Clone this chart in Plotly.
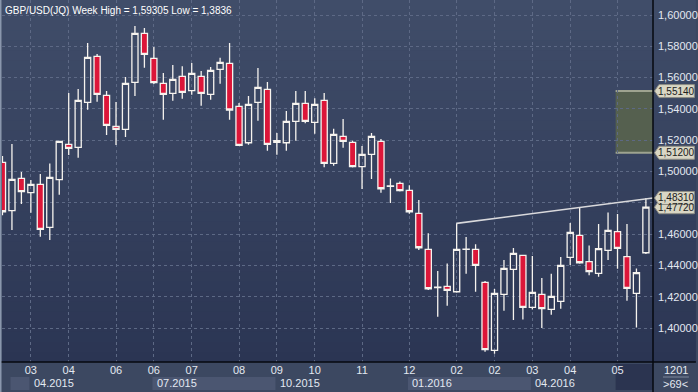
import plotly.graph_objects as go

# ---------------- data ----------------
bars = list(range(69))
opens = [1.5059, 1.4750, 1.4956, 1.4865, 1.4918, 1.4643, 1.4948, 1.5174, 1.5154, 1.5442,
         1.5736, 1.5487, 1.5289, 1.5269, 1.5570, 1.5883, 1.5723, 1.5563, 1.5499, 1.5608,
         1.5517, 1.5608, 1.5493, 1.5653, 1.5691, 1.5416, 1.5184, 1.5442, 1.5525, 1.5197,
         1.5184, 1.5321, 1.5436, 1.5314, 1.5455, 1.5052, 1.5225, 1.5186, 1.5031, 1.5110,
         1.5193, 1.4906, 1.4924, 1.4880, 1.4733, 1.4503, 1.4259, 1.4266, 1.4232, 1.4502,
         1.4503, 1.4292, 1.3857, 1.4215, 1.4375, 1.4464, 1.4132, 1.4215, 1.4119, 1.4170,
         1.4451, 1.4592, 1.4424, 1.4349, 1.4496, 1.4616, 1.4456, 1.4221, 1.4481]
highs = [1.5100, 1.5176, 1.4997, 1.4946, 1.4984, 1.5052, 1.5195, 1.5502, 1.5527, 1.5821,
         1.5751, 1.5514, 1.5444, 1.5604, 1.59305, 1.5917, 1.5795, 1.5629, 1.5681, 1.5672,
         1.5693, 1.5642, 1.5668, 1.5727, 1.5821, 1.5438, 1.5482, 1.5661, 1.5572, 1.5246,
         1.5387, 1.5514, 1.5514, 1.5468, 1.5502, 1.5274, 1.5335, 1.5197, 1.5163, 1.5246,
         1.5208, 1.4956, 1.4937, 1.4912, 1.4818, 1.4605, 1.4364, 1.4413, 1.4669, 1.4581,
         1.4535, 1.4300, 1.4249, 1.4434, 1.4511, 1.4466, 1.4460, 1.4319, 1.4347, 1.4454,
         1.4671, 1.4771, 1.4528, 1.4665, 1.4739, 1.4728, 1.4665, 1.4381, 1.4831]
lows = [1.4720, 1.4626, 1.4792, 1.4737, 1.4584, 1.4562, 1.4852, 1.5105, 1.5088, 1.5395,
        1.5446, 1.5233, 1.5169, 1.5220, 1.5482, 1.5663, 1.5559, 1.5331, 1.5453, 1.5465,
        1.5491, 1.5421, 1.5459, 1.5561, 1.5331, 1.5165, 1.5171, 1.5325, 1.5133, 1.5108,
        1.5133, 1.5197, 1.5308, 1.5242, 1.5027, 1.5037, 1.5152, 1.5025, 1.4888, 1.4952,
        1.4865, 1.4799, 1.4873, 1.4731, 1.4498, 1.4243, 1.4072, 1.4143, 1.4226, 1.4347,
        1.4232, 1.3849, 1.3836, 1.4111, 1.4051, 1.4055, 1.4119, 1.4000, 1.4085, 1.4124,
        1.4403, 1.4411, 1.4337, 1.4328, 1.4435, 1.4379, 1.4175, 1.4004, 1.4473]
closes = [1.4743, 1.4950, 1.4871, 1.4918, 1.4630, 1.4963, 1.5193, 1.5148, 1.5455, 1.5729,
          1.5493, 1.5295, 1.5269, 1.5563, 1.5883, 1.5749, 1.5568, 1.5493, 1.5589, 1.5506,
          1.5627, 1.5499, 1.5646, 1.5698, 1.5393, 1.5167, 1.5429, 1.5538, 1.5174, 1.5186,
          1.5321, 1.5436, 1.5321, 1.5429, 1.5052, 1.5237, 1.5193, 1.5031, 1.5110, 1.5225,
          1.4890, 1.4908, 1.4878, 1.4743, 1.4513, 1.4251, 1.4261, 1.4241, 1.4503, 1.4504,
          1.4400, 1.3862, 1.4221, 1.4381, 1.4477, 1.4132, 1.4228, 1.4124, 1.4202, 1.4400,
          1.4611, 1.4417, 1.4360, 1.4507, 1.4624, 1.4509, 1.4253, 1.4354, 1.4772]

month_tick_bars = [3, 7, 12, 16, 20, 25, 29, 33, 38, 43, 48, 52, 56, 60, 65]
month_tick_labels = ["03", "04", "06", "06", "07", "08", "09", "10", "11", "12",
                     "02", "02", "03", "04", "05"]
quarter_bars = [3, 16, 29, 43, 56]
quarter_labels = ["04.2015", "07.2015", "10.2015", "01.2016", "04.2016"]
shaded_quarters = [(1, 3), (16, 29), (43, 56)]

price_ticks = [1.40, 1.42, 1.44, 1.46, 1.48, 1.50, 1.52, 1.54, 1.56, 1.58, 1.60]
price_tick_labels = ["1,40000", "1,42000", "1,44000", "1,46000", "", "1,50000",
                     "1,52000", "1,54000", "1,56000", "1,58000", "1,60000"]

trend_x = [48, 68.75]
trend_y = [1.4669, 1.4831]
zone_start = 64.8
zone_low, zone_high = 1.5120, 1.5514
badges = [(1.5514, "1,55140"), (1.5120, "1,51200"), (1.4772, "1,47720"), (1.4831, "1,48310")]

title_text = "GBP/USD(JQ) Week High = 1,59305 Low = 1,3836"
bar_count_text = "1201"
visible_text = ">69<"

# ---------------- layout constants ----------------
W, H = 698, 392
ML, MR, MT, MB = 2, 43, 0, 30
PW, PH = W - ML - MR, H - MT - MB
XR = [-0.05, 68.75]
YR = [1.3783, 1.6096]
FONT = "Liberation Sans, Arial, sans-serif"

def py(price):
    return (price - YR[0]) / (YR[1] - YR[0])

xr_end = 1 + MR / PW
yb = -MB / PH

shapes = []
# gradient background (plot + right panel)
N = 36
top = (64, 77, 105)
bot = (43, 53, 83)
for k in range(N):
    t = (k + 0.5) / N
    c = tuple(int(round(bot[j] + (top[j] - bot[j]) * t)) for j in range(3))
    shapes.append(dict(type="rect", xref="paper", yref="paper", x0=0, x1=xr_end,
                       y0=k / N, y1=(k + 1) / N + 0.002, line=dict(width=0),
                       fillcolor="rgb(%d,%d,%d)" % c, layer="below"))
# shaded quarter boxes in the lower strip
for a, b in shaded_quarters:
    shapes.append(dict(type="rect", xref="x", yref="paper", x0=a - 0.15, x1=b - 0.15,
                       y0=yb + 2 / PH, y1=yb + 15 / PH, line=dict(width=0),
                       fillcolor="#4b5671", layer="below"))
shapes.append(dict(type="rect", xref="x", yref="paper", x0=zone_start, x1=XR[1],
                   y0=yb + 2 / PH, y1=-2 / PH, line=dict(width=0),
                   fillcolor="#2b3450", layer="below"))
# zone rectangle
shapes.append(dict(type="rect", xref="x", yref="y", x0=zone_start, x1=XR[1],
                   y0=zone_low, y1=zone_high, line=dict(width=0),
                   fillcolor="#55604f", layer="below"))
for yv in (zone_low, zone_high):
    shapes.append(dict(type="line", xref="x", yref="y", x0=zone_start, x1=XR[1],
                       y0=yv, y1=yv, line=dict(color="#9ea390", width=2), layer="below"))
# separators
shapes.append(dict(type="line", xref="paper", yref="paper", x0=1, x1=1, y0=yb, y1=1,
                   line=dict(color="#06090f", width=1.5)))
shapes.append(dict(type="line", xref="paper", yref="paper", x0=-ML / PW, x1=xr_end, y0=0, y1=0,
                   line=dict(color="#06090f", width=1.5)))
shapes.append(dict(type="line", xref="paper", yref="paper", x0=-1.5 / PW, x1=-1.5 / PW,
                   y0=yb, y1=1, line=dict(color="#8a97ad", width=2)))
shapes.append(dict(type="line", xref="paper", yref="paper", x0=1 + 10 / PW, x1=1 + 36 / PW,
                   y0=yb + 15 / PH, y1=yb + 15 / PH, line=dict(color="#7d879c", width=1)))
# badges
annotations = []
hh = 6.5 / PH
for price, lab in badges:
    yp = py(price)
    x_tip = 1 + 1.5 / PW
    x_a = 1 + 6 / PW
    x_b = 1 + 41.5 / PW
    path = "M %f,%f L %f,%f L %f,%f L %f,%f L %f,%f Z" % (
        x_tip, yp, x_a, yp + hh, x_b, yp + hh, x_b, yp - hh, x_a, yp - hh)
    shapes.append(dict(type="path", xref="paper", yref="paper", path=path,
                       fillcolor="#d9d6c4", line=dict(color="#8d8d84", width=1), layer="above"))
    annotations.append(dict(xref="paper", yref="paper", x=(x_a + x_b) / 2, y=yp, text=lab,
                            showarrow=False, xanchor="center", yanchor="middle", borderpad=0,
                            font=dict(family=FONT, size=10, color="#202020")))

annotations.append(dict(xref="paper", yref="paper", x=3 / PW - ML / PW, y=1 - 3 / PH,
                        text=title_text, showarrow=False, xanchor="left", yanchor="top",
                        font=dict(family=FONT, size=10, color="#ffffff")))
for b, lab in zip(quarter_bars, quarter_labels):
    annotations.append(dict(xref="x", yref="paper", x=b, y=yb + 9 / PH, text=lab,
                            showarrow=False, xanchor="left", yanchor="middle", xshift=1,
                            font=dict(family=FONT, size=11, color="#e3e8f1")))
annotations.append(dict(xref="paper", yref="paper", x=1 + 23 / PW, y=yb + 22 / PH,
                        text=bar_count_text, showarrow=False, xanchor="center", yanchor="middle",
                        font=dict(family=FONT, size=11, color="#e3e8f1")))
annotations.append(dict(xref="paper", yref="paper", x=1 + 23 / PW, y=yb + 8 / PH,
                        text=visible_text, showarrow=False, xanchor="center", yanchor="middle",
                        font=dict(family=FONT, size=11, color="#e3e8f1")))

fig = go.Figure()
fig.add_trace(go.Candlestick(
    x=bars, open=opens, high=highs, low=lows, close=closes,
    increasing=dict(line=dict(color="#f6f3ee", width=1.3), fillcolor="rgba(0,0,0,0)"),
    decreasing=dict(line=dict(color="#f6f3ee", width=1.3), fillcolor="#dc1639"),
    whiskerwidth=0, showlegend=False, hoverinfo="skip"))
fig.add_trace(go.Scatter(x=trend_x, y=trend_y, mode="lines",
                         line=dict(color="#d9d9dc", width=1.6), showlegend=False, hoverinfo="skip"))

fig.update_layout(
    width=W, height=H, margin=dict(l=ML, r=MR, t=MT, b=MB),
    paper_bgcolor="#3c4861", plot_bgcolor="rgba(0,0,0,0)",
    boxgap=0.35, boxgroupgap=0,
    shapes=shapes, annotations=annotations, showlegend=False,
    xaxis=dict(range=XR, rangeslider=dict(visible=False), showline=False, zeroline=False,
               tickmode="array", tickvals=month_tick_bars, ticktext=month_tick_labels,
               ticks="", showgrid=True, gridcolor="#5d6985", griddash="3px,3px", gridwidth=1,
               tickfont=dict(family=FONT, size=11, color="#e3e8f1")),
    yaxis=dict(range=YR, side="right", showline=False, zeroline=False,
               tickmode="array", tickvals=price_ticks, ticktext=price_tick_labels,
               ticks="", ticklabelstandoff=4, showgrid=True, gridcolor="#5d6985",
               griddash="3px,3px", gridwidth=1,
               tickfont=dict(family=FONT, size=11, color="#e3e8f1")),
)
fig.write_html("out.html", config={"displayModeBar": False},
               post_script="document.body.style.margin='0';document.body.style.overflow='hidden';")
